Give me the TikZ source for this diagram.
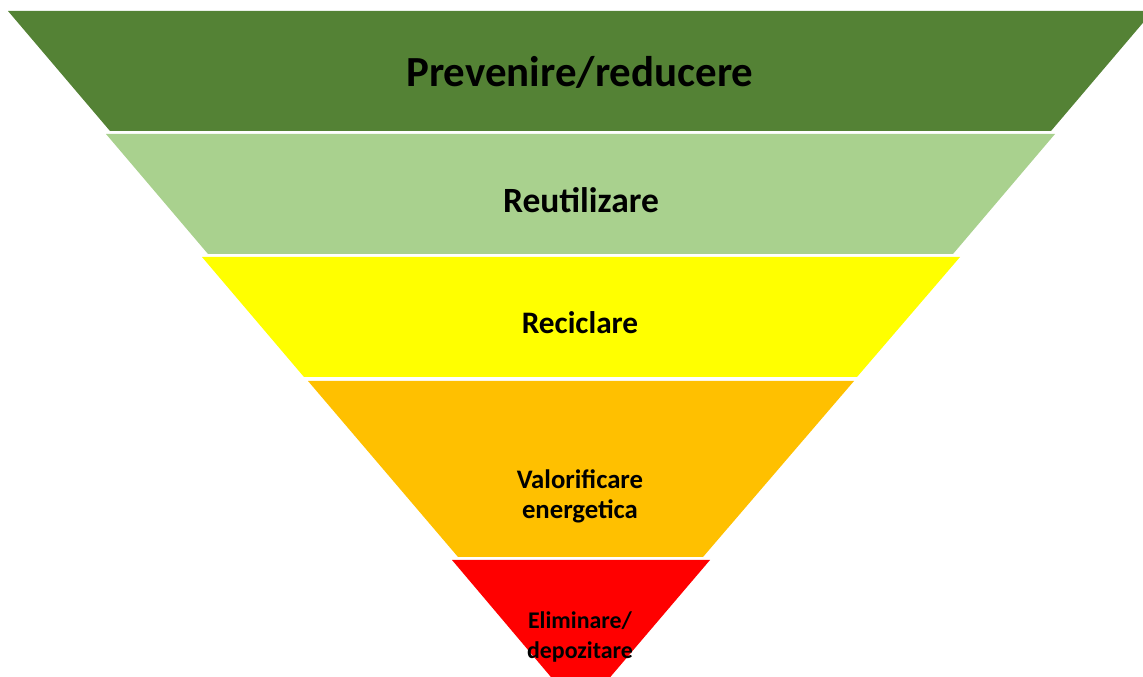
\documentclass[tikz,border=0pt]{standalone}
\usepackage{fontspec}
\setmainfont{Carlito}
\definecolor{darkgreen}{HTML}{548235}
\definecolor{lightgreen}{HTML}{A9D18E}
\definecolor{lemon}{HTML}{FFFF00}
\definecolor{amber}{HTML}{FFC000}
\definecolor{brightred}{HTML}{FF0000}
\tikzset{lvl/.style={font=\bfseries, align=center, inner sep=0pt}}
\begin{document}
\begin{tikzpicture}[x=0.01cm, y=-0.01cm]
\useasboundingbox (0,0) rectangle (1143,677);
\clip (0,0) rectangle (1143,677);

\fill[darkgreen] (8,11) -- (1153,11) -- (1051,131) -- (110,131) -- cycle;
\fill[lightgreen] (106,134) -- (1055,134) -- (953,254) -- (208,254) -- cycle;
\fill[lemon] (202,257) -- (960,257) -- (857,377) -- (304,377) -- cycle;
\fill[amber] (308,381) -- (854,381) -- (703,557) -- (458,557) -- cycle;
\fill[brightred] (452,560) -- (710,560) -- (580.5,712) -- cycle;

\node[lvl, anchor=base, font=\bfseries\fontsize{12.2}{14}\selectfont] (prevenire) at (580,87) {Prevenire/reducere};
\node[lvl, anchor=base, font=\bfseries\fontsize{10.1}{12}\selectfont] (reutilizare) at (581,213) {Reutilizare};
\node[lvl, anchor=base, font=\bfseries\fontsize{8.9}{10}\selectfont] (reciclare) at (580,334) {Reciclare};
\node[lvl, font=\bfseries\fontsize{7.6}{8.6}\selectfont] (valorificare) at (580,496) {Valorificare\\energetica};
\node[lvl, font=\bfseries\fontsize{6.8}{8.8}\selectfont] (eliminare) at (580,637) {Eliminare/\\depozitare};
\end{tikzpicture}
\end{document}
